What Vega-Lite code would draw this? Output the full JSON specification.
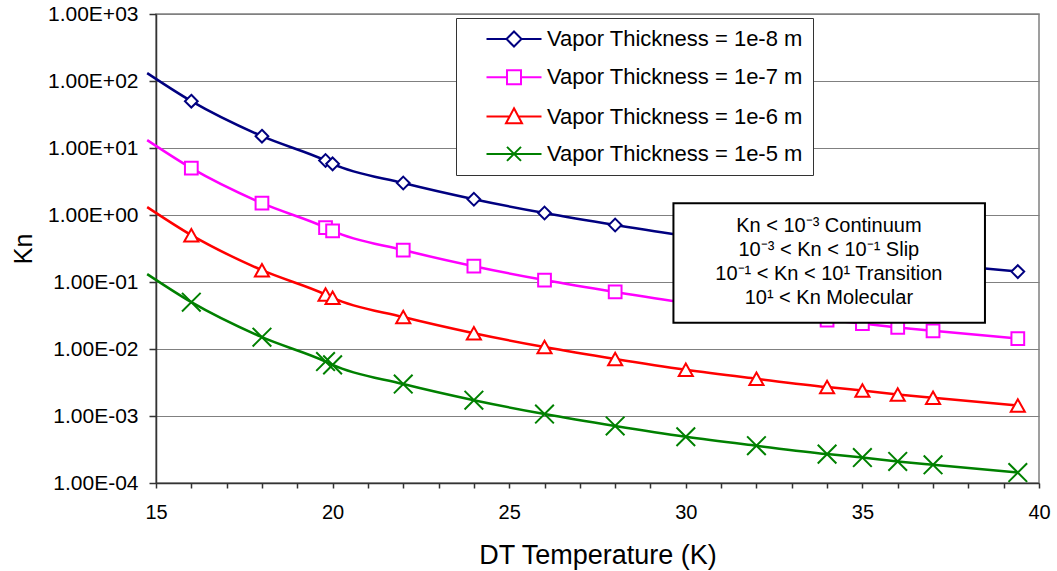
{
  "$schema": "https://vega.github.io/schema/vega-lite/v6.json",
  "width": 883,
  "height": 469,
  "autosize": "none",
  "padding": {"left": 156, "top": 14, "right": 18, "bottom": 88},
  "background": "white",
  "config": {
    "view": {"stroke": "#808080", "strokeWidth": 1.5},
    "font": "Liberation Sans",
    "axis": {"labelOverlap": false, "labelFlush": false}
  },
  "datasets": {
    "kn": [
      {"series": "Vapor Thickness = 1e-8 m", "T": 14.75, "Kn": 131},
      {"series": "Vapor Thickness = 1e-8 m", "T": 16, "Kn": 50},
      {"series": "Vapor Thickness = 1e-8 m", "T": 18, "Kn": 15},
      {"series": "Vapor Thickness = 1e-8 m", "T": 19.8, "Kn": 6.5},
      {"series": "Vapor Thickness = 1e-8 m", "T": 20, "Kn": 5.8},
      {"series": "Vapor Thickness = 1e-8 m", "T": 22, "Kn": 3.0},
      {"series": "Vapor Thickness = 1e-8 m", "T": 24, "Kn": 1.72},
      {"series": "Vapor Thickness = 1e-8 m", "T": 26, "Kn": 1.07},
      {"series": "Vapor Thickness = 1e-8 m", "T": 28, "Kn": 0.71},
      {"series": "Vapor Thickness = 1e-8 m", "T": 30, "Kn": 0.49},
      {"series": "Vapor Thickness = 1e-8 m", "T": 32, "Kn": 0.36},
      {"series": "Vapor Thickness = 1e-8 m", "T": 34, "Kn": 0.27},
      {"series": "Vapor Thickness = 1e-8 m", "T": 35, "Kn": 0.24},
      {"series": "Vapor Thickness = 1e-8 m", "T": 36, "Kn": 0.21},
      {"series": "Vapor Thickness = 1e-8 m", "T": 37, "Kn": 0.187},
      {"series": "Vapor Thickness = 1e-8 m", "T": 39.4, "Kn": 0.143},
      {"series": "Vapor Thickness = 1e-7 m", "T": 14.75, "Kn": 13.1},
      {"series": "Vapor Thickness = 1e-7 m", "T": 16, "Kn": 5},
      {"series": "Vapor Thickness = 1e-7 m", "T": 18, "Kn": 1.5},
      {"series": "Vapor Thickness = 1e-7 m", "T": 19.8, "Kn": 0.65},
      {"series": "Vapor Thickness = 1e-7 m", "T": 20, "Kn": 0.58},
      {"series": "Vapor Thickness = 1e-7 m", "T": 22, "Kn": 0.3},
      {"series": "Vapor Thickness = 1e-7 m", "T": 24, "Kn": 0.172},
      {"series": "Vapor Thickness = 1e-7 m", "T": 26, "Kn": 0.107},
      {"series": "Vapor Thickness = 1e-7 m", "T": 28, "Kn": 0.071},
      {"series": "Vapor Thickness = 1e-7 m", "T": 30, "Kn": 0.049},
      {"series": "Vapor Thickness = 1e-7 m", "T": 32, "Kn": 0.036},
      {"series": "Vapor Thickness = 1e-7 m", "T": 34, "Kn": 0.027},
      {"series": "Vapor Thickness = 1e-7 m", "T": 35, "Kn": 0.024},
      {"series": "Vapor Thickness = 1e-7 m", "T": 36, "Kn": 0.021},
      {"series": "Vapor Thickness = 1e-7 m", "T": 37, "Kn": 0.0187},
      {"series": "Vapor Thickness = 1e-7 m", "T": 39.4, "Kn": 0.0143},
      {"series": "Vapor Thickness = 1e-6 m", "T": 14.75, "Kn": 1.31},
      {"series": "Vapor Thickness = 1e-6 m", "T": 16, "Kn": 0.5},
      {"series": "Vapor Thickness = 1e-6 m", "T": 18, "Kn": 0.15},
      {"series": "Vapor Thickness = 1e-6 m", "T": 19.8, "Kn": 0.065},
      {"series": "Vapor Thickness = 1e-6 m", "T": 20, "Kn": 0.058},
      {"series": "Vapor Thickness = 1e-6 m", "T": 22, "Kn": 0.03},
      {"series": "Vapor Thickness = 1e-6 m", "T": 24, "Kn": 0.0172},
      {"series": "Vapor Thickness = 1e-6 m", "T": 26, "Kn": 0.0107},
      {"series": "Vapor Thickness = 1e-6 m", "T": 28, "Kn": 0.0071},
      {"series": "Vapor Thickness = 1e-6 m", "T": 30, "Kn": 0.0049},
      {"series": "Vapor Thickness = 1e-6 m", "T": 32, "Kn": 0.0036},
      {"series": "Vapor Thickness = 1e-6 m", "T": 34, "Kn": 0.0027},
      {"series": "Vapor Thickness = 1e-6 m", "T": 35, "Kn": 0.0024},
      {"series": "Vapor Thickness = 1e-6 m", "T": 36, "Kn": 0.0021},
      {"series": "Vapor Thickness = 1e-6 m", "T": 37, "Kn": 0.00187},
      {"series": "Vapor Thickness = 1e-6 m", "T": 39.4, "Kn": 0.00143},
      {"series": "Vapor Thickness = 1e-5 m", "T": 14.75, "Kn": 0.131},
      {"series": "Vapor Thickness = 1e-5 m", "T": 16, "Kn": 0.05},
      {"series": "Vapor Thickness = 1e-5 m", "T": 18, "Kn": 0.015},
      {"series": "Vapor Thickness = 1e-5 m", "T": 19.8, "Kn": 0.0065},
      {"series": "Vapor Thickness = 1e-5 m", "T": 20, "Kn": 0.0058},
      {"series": "Vapor Thickness = 1e-5 m", "T": 22, "Kn": 0.003},
      {"series": "Vapor Thickness = 1e-5 m", "T": 24, "Kn": 0.00172},
      {"series": "Vapor Thickness = 1e-5 m", "T": 26, "Kn": 0.00107},
      {"series": "Vapor Thickness = 1e-5 m", "T": 28, "Kn": 0.00071},
      {"series": "Vapor Thickness = 1e-5 m", "T": 30, "Kn": 0.00049},
      {"series": "Vapor Thickness = 1e-5 m", "T": 32, "Kn": 0.00036},
      {"series": "Vapor Thickness = 1e-5 m", "T": 34, "Kn": 0.00027},
      {"series": "Vapor Thickness = 1e-5 m", "T": 35, "Kn": 0.00024},
      {"series": "Vapor Thickness = 1e-5 m", "T": 36, "Kn": 0.00021},
      {"series": "Vapor Thickness = 1e-5 m", "T": 37, "Kn": 0.000187},
      {"series": "Vapor Thickness = 1e-5 m", "T": 39.4, "Kn": 0.000143}
    ],
    "note": [
      {"note": "Kn < 10⁻³ Continuum\n10⁻³ < Kn < 10⁻¹ Slip\n10⁻¹ < Kn < 10¹ Transition\n10¹ < Kn Molecular"}
    ]
  },
  "layer": [
    {
      "data": {"name": "kn"},
      "encoding": {
        "x": {
          "field": "T", "type": "quantitative",
          "scale": {"domain": [15, 40], "nice": false, "zero": false},
          "axis": {
            "title": "DT Temperature (K)",
            "values": [15,16,17,18,19,20,21,22,23,24,25,26,27,28,29,30,31,32,33,34,35,36,37,38,39,40],
            "labelExpr": "datum.value % 5 === 0 ? datum.label : ''",
            "grid": false, "tickSize": 5, "tickWidth": 1.5, "tickColor": "#333333",
            "domainColor": "#333333", "domainWidth": 1.5,
            "labelFont": "Liberation Sans", "labelFontSize": 20, "labelColor": "black",
            "labelPadding": 14, "labelFlush": false, "labelOverlap": false,
            "titleFont": "Liberation Sans", "titleFontSize": 27, "titleFontWeight": "normal",
            "titleColor": "black", "titleY": 80, "titleBaseline": "alphabetic"
          }
        },
        "y": {
          "field": "Kn", "type": "quantitative",
          "scale": {"type": "log", "domain": [0.0001, 1000], "nice": false},
          "axis": {
            "title": "Kn",
            "values": [0.0001, 0.001, 0.01, 0.1, 1, 10, 100, 1000],
            "labelExpr": "'1.00E' + (datum.value >= 1 ? '+' : '-') + '0' + abs(round(log(datum.value) / LN10))",
            "grid": true, "gridColor": "#808080", "gridWidth": 1,
            "tickSize": 7, "tickWidth": 1.5, "tickColor": "#333333",
            "domainColor": "#333333", "domainWidth": 1.5,
            "labelFont": "Liberation Sans", "labelFontSize": 21, "labelColor": "black",
            "labelPadding": 11, "labelFlush": false, "labelOverlap": false,
            "titleFont": "Liberation Sans", "titleFontSize": 25, "titleFontWeight": "normal",
            "titleColor": "black", "titleX": -125, "titleBaseline": "alphabetic"
          }
        }
      },
      "layer": [
        {
          "mark": {"type": "line", "interpolate": "monotone", "strokeWidth": 2.5, "clip": false},
          "encoding": {
            "color": {
              "field": "series", "type": "nominal",
              "scale": {
                "domain": ["Vapor Thickness = 1e-8 m", "Vapor Thickness = 1e-7 m", "Vapor Thickness = 1e-6 m", "Vapor Thickness = 1e-5 m"],
                "range": ["#000080", "#FF00FF", "#FF0000", "#008000"]
              },
              "legend": {
                "title": null, "orient": "none", "legendX": 300, "legendY": 4, "direction": "vertical",
                "fillColor": "white", "strokeColor": "#333333", "padding": 10,
                "labelFont": "Liberation Sans", "labelFontSize": 22, "labelColor": "black", "labelLimit": 500,
                "rowPadding": 15.3, "symbolSize": 100, "symbolStrokeWidth": 2, "symbolOffset": 37, "labelOffset": 22,
                "symbolOpacity": 1,
                "encode": {
                  "symbols": {
                    "update": {
                      "shape": {"signal": "['M-5.5,0L-1.5,0M1.5,0L5.5,0M0,-1.5L1.5,0L0,1.5L-1.5,0Z','M-5.5,0L-1.4,0M1.4,0L5.5,0M-1.4,-1.4L1.4,-1.4L1.4,1.4L-1.4,1.4Z','M-5.5,0L-0.89,0M0.89,0L5.5,0M0,-1.67L1.6,1.33L-1.6,1.33Z','M-5.5,0L5.5,0M-1.4,-1.4L1.4,1.4M-1.4,1.4L1.4,-1.4'][indexof(['Vapor Thickness = 1e-8 m','Vapor Thickness = 1e-7 m','Vapor Thickness = 1e-6 m','Vapor Thickness = 1e-5 m'], datum.value)]"},
                      "fill": {"value": "white"},
                      "strokeWidth": {"value": 2},
                      "size": {"value": 100}
                    }
                  }
                }
              }
            }
          }
        },
        {
          "transform": [{"filter": "datum.T >= 15 && datum.series === 'Vapor Thickness = 1e-8 m'"}],
          "mark": {"type": "point", "filled": false, "fill": "white", "strokeWidth": 2, "size": 180, "opacity": 1, "shape": "M0,-0.95L0.95,0L0,0.95L-0.95,0Z"},
          "encoding": {"color": {"field": "series", "type": "nominal"}}
        },
        {
          "transform": [{"filter": "datum.T >= 15 && datum.series === 'Vapor Thickness = 1e-7 m'"}],
          "mark": {"type": "point", "filled": false, "fill": "white", "strokeWidth": 2, "size": 180, "opacity": 1, "shape": "M-0.95,-0.95L0.95,-0.95L0.95,0.95L-0.95,0.95Z"},
          "encoding": {"color": {"field": "series", "type": "nominal"}}
        },
        {
          "transform": [{"filter": "datum.T >= 15 && datum.series === 'Vapor Thickness = 1e-6 m'"}],
          "mark": {"type": "point", "filled": false, "fill": "white", "strokeWidth": 2, "size": 180, "opacity": 1, "shape": "M0,-0.93L1.05,0.93L-1.05,0.93Z"},
          "encoding": {"color": {"field": "series", "type": "nominal"}}
        },
        {
          "transform": [{"filter": "datum.T >= 15 && datum.series === 'Vapor Thickness = 1e-5 m'"}],
          "mark": {"type": "point", "filled": false, "fill": "white", "strokeWidth": 2, "size": 180, "opacity": 1, "shape": "M-1.39,-1.39L1.39,1.39M-1.39,1.39L1.39,-1.39"},
          "encoding": {"color": {"field": "series", "type": "nominal"}}
        }
      ]
    },
    {
      "data": {"name": "note"},
      "mark": {"type": "rect", "fill": "white", "stroke": "black", "strokeWidth": 2},
      "encoding": {
        "x": {
          "datum": 29.65, "type": "quantitative",
          "axis": {
            "title": "DT Temperature (K)",
            "values": [15,16,17,18,19,20,21,22,23,24,25,26,27,28,29,30,31,32,33,34,35,36,37,38,39,40],
            "labelExpr": "datum.value % 5 === 0 ? datum.label : ''",
            "grid": false, "tickSize": 5, "tickWidth": 1.5, "tickColor": "#333333",
            "domainColor": "#333333", "domainWidth": 1.5,
            "labelFont": "Liberation Sans", "labelFontSize": 20, "labelColor": "black",
            "labelPadding": 14, "labelFlush": false, "labelOverlap": false,
            "titleFont": "Liberation Sans", "titleFontSize": 27, "titleFontWeight": "normal",
            "titleColor": "black", "titleY": 80, "titleBaseline": "alphabetic"
          }
        },
        "x2": {"datum": 38.47},
        "y": {
          "datum": 1.5, "type": "quantitative",
          "axis": {
            "title": "Kn",
            "values": [0.0001, 0.001, 0.01, 0.1, 1, 10, 100, 1000],
            "labelExpr": "'1.00E' + (datum.value >= 1 ? '+' : '-') + '0' + abs(round(log(datum.value) / LN10))",
            "grid": true, "gridColor": "#808080", "gridWidth": 1,
            "tickSize": 7, "tickWidth": 1.5, "tickColor": "#333333",
            "domainColor": "#333333", "domainWidth": 1.5,
            "labelFont": "Liberation Sans", "labelFontSize": 21, "labelColor": "black",
            "labelPadding": 11, "labelFlush": false, "labelOverlap": false,
            "titleFont": "Liberation Sans", "titleFontSize": 25, "titleFontWeight": "normal",
            "titleColor": "black", "titleX": -125, "titleBaseline": "alphabetic"
          }
        },
        "y2": {"datum": 0.0247}
      }
    },
    {
      "data": {"name": "note"},
      "mark": {"type": "text", "font": "Liberation Sans", "fontSize": 20, "lineHeight": 24, "lineBreak": "\n", "align": "center", "baseline": "middle", "fill": "black"},
      "encoding": {
        "x": {
          "datum": 34.05, "type": "quantitative",
          "axis": {
            "title": "DT Temperature (K)",
            "values": [15,16,17,18,19,20,21,22,23,24,25,26,27,28,29,30,31,32,33,34,35,36,37,38,39,40],
            "labelExpr": "datum.value % 5 === 0 ? datum.label : ''",
            "grid": false, "tickSize": 5, "tickWidth": 1.5, "tickColor": "#333333",
            "domainColor": "#333333", "domainWidth": 1.5,
            "labelFont": "Liberation Sans", "labelFontSize": 20, "labelColor": "black",
            "labelPadding": 14, "labelFlush": false, "labelOverlap": false,
            "titleFont": "Liberation Sans", "titleFontSize": 27, "titleFontWeight": "normal",
            "titleColor": "black", "titleY": 80, "titleBaseline": "alphabetic"
          }
        },
        "y": {
          "datum": 0.69, "type": "quantitative",
          "axis": {
            "title": "Kn",
            "values": [0.0001, 0.001, 0.01, 0.1, 1, 10, 100, 1000],
            "labelExpr": "'1.00E' + (datum.value >= 1 ? '+' : '-') + '0' + abs(round(log(datum.value) / LN10))",
            "grid": true, "gridColor": "#808080", "gridWidth": 1,
            "tickSize": 7, "tickWidth": 1.5, "tickColor": "#333333",
            "domainColor": "#333333", "domainWidth": 1.5,
            "labelFont": "Liberation Sans", "labelFontSize": 21, "labelColor": "black",
            "labelPadding": 11, "labelFlush": false, "labelOverlap": false,
            "titleFont": "Liberation Sans", "titleFontSize": 25, "titleFontWeight": "normal",
            "titleColor": "black", "titleX": -125, "titleBaseline": "alphabetic"
          }
        },
        "text": {"field": "note", "type": "nominal"}
      }
    }
  ]
}
